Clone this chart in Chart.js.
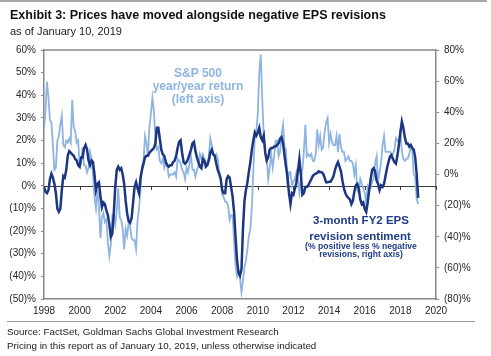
<!DOCTYPE html>
<html>
<head>
<meta charset="utf-8">
<script src="https://cdn.jsdelivr.net/npm/chart.js@4"></script>
<style>
  html, body { margin:0; padding:0; background:#fff; }
  #wrap { position:relative; width:491px; height:356px; overflow:hidden; font-family:"Liberation Sans", Arial, sans-serif; }
  canvas { position:absolute; left:0; top:0; }
  .t { position:absolute; white-space:nowrap; line-height:1; }
  .c { transform:translateX(-50%); text-align:center; }
  .rule { position:absolute; background:#a6a6a6; }
</style>
</head>
<body>
<div id="wrap">
  <div class="rule" style="left:0;top:0;width:487px;height:2px;"></div>
  <canvas id="chart" width="491" height="356"></canvas>
  <div class="t" style="left:10px;top:9.4px;font-size:12.5px;font-weight:bold;color:#111;">Exhibit 3: Prices have moved alongside negative EPS revisions</div>
  <div class="t" style="left:10px;top:25.7px;font-size:11px;color:#222;">as of January 10, 2019</div>

  <div class="t c" style="left:198px;top:66.5px;font-size:12px;font-weight:bold;color:#8db4e2;">S&amp;P 500</div>
  <div class="t c" style="left:198px;top:79.8px;font-size:12px;font-weight:bold;color:#8db4e2;">year/year return</div>
  <div class="t c" style="left:198px;top:92.8px;font-size:12px;font-weight:bold;color:#8db4e2;">(left axis)</div>

  <div class="t c" style="left:361px;top:215.3px;font-size:11.5px;font-weight:bold;color:#1f3c88;">3-month FY2 EPS</div>
  <div class="t c" style="left:360px;top:231.3px;font-size:11.5px;font-weight:bold;color:#1f3c88;">revision sentiment</div>
  <div class="t c" style="left:361px;top:241.6px;font-size:8.6px;font-weight:bold;color:#1f3c88;">(% positive less % negative</div>
  <div class="t c" style="left:361px;top:249.8px;font-size:8.6px;font-weight:bold;color:#1f3c88;">revisions, right axis)</div>

  <div class="rule" style="left:7px;top:321px;width:468px;height:1px;background:#9a9a9a;"></div>
  <div class="t" style="left:7px;top:326.7px;font-size:9.8px;color:#222;">Source: FactSet, Goldman Sachs Global Investment Research</div>
  <div class="t" style="left:7px;top:341.2px;font-size:9.8px;color:#222;">Pricing in this report as of January 10, 2019, unless otherwise indicated</div>
</div>
<script>
// ---- data (monthly, starting January 1998) ----
const startYear = 1998;
const xTicks = [1998, 2000, 2002, 2004, 2006, 2008, 2010, 2012, 2014, 2016, 2018, 2020];
const leftTicks = [-50, -40, -30, -20, -10, 0, 10, 20, 30, 40, 50, 60];
const rightTicks = [-80, -60, -40, -20, 0, 20, 40, 60, 80];

// S&P 500 year/year return, % (left axis)
const spxYoY = [
  25, 33, 46, 39, 29, 28, 18, 7, 8, 20, 22, 27,
  31, 18, 17, 20, 19, 21, 19, 38, 26, 24, 19, 20,
  9, 10, 17, 9, 9, 6, 8, 15, 12, 5, -5, -10,
  -2, -9, -23, -14, -12, -16, -15, -25, -31, -26, -13, -13,
  -17, -11, -1, -14, -15, -19, -28, -19, -22, -16, -18, -23,
  -24, -24, -28, -15, -10, -2, 9, 10, 22, 19, 13, 26,
  32, 39, 33, 21, 16, 17, 11, 10, 12, 8, 11, 9,
  4, 5, 5, 5, 6, 4, 12, 11, 10, 7, 6, 3,
  8, 6, 10, 13, 7, 7, 4, 7, 9, 14, 12, 14,
  12, 10, 10, 13, 21, 18, 14, 13, 14, 12, 6, 4,
  -4, -5, -7, -7, -9, -15, -13, -13, -24, -35, -40, -38,
  -41, -47, -42, -36, -33, -28, -22, -19, -9, 7, 22, 24,
  32, 50, 58, 38, 22, 14, 12, 3, 8, 14, 8, 13,
  20, 20, 13, 15, 23, 27, 17, 16, -1, 6, 6, 0,
  2, 3, 6, 3, -3, 3, 7, 15, 27, 13, 14, 13,
  14, 11, 11, 14, 25, 18, 22, 16, 17, 24, 28, 30,
  19, 23, 19, 18, 18, 22, 15, 23, 17, 15, 15, 11,
  12, 13, 11, 11, 10, 5, 9, -2, -3, 3, 1, -1,
  -3, -8, 0, -1, -1, 2, 3, 10, 13, 2, 6, 10,
  18, 22, 15, 15, 15, 15, 14, 14, 16, 21, 20, 19,
  24, 15, 12, 11, 12, 12, 14, 17, 16, 5, 4, -6,
  -8
];

// 3-month FY2 EPS revision sentiment, % (right axis)
const epsRevision = [
  -8, -11, -12, -10, -3, 0.5, -2, -6, -12, -22, -24, -22,
  -10, -1, -2, 3, 12, 15, 14, 13, 12, 10, 9, 6,
  5, 11, 11, 17, 19, 16, 9, 6, 9, 8, 0, -10,
  -6, -5, -14, -21, -18, -19, -23, -26, -32, -40, -38, -25,
  -8, 3, 5, 3, 4, 0, -6, -17, -25, -30, -31, -28,
  -18, -8, -5, -9, -12, -2, 3, 7, 11, 12, 12, 14,
  15, 16, 17, 20, 30, 30, 23, 16, 13, 12, 8, 6,
  5, 6, 6, 8, 9, 12, 17, 21, 22, 14, 8, 7,
  8, 10, 13, 16, 20, 21, 15, 11, 8, 5, 4, 10,
  9, 5, 6, 9, 14, 16, 13, 12, 7, 3, 0.5, -3,
  -10, -12, -12, -3, -1, -2, -8, -14, -24, -40, -55, -63,
  -65, -61, -35, -17, -10, -5, 2, 8, 16, 22, 27, 25,
  27, 30, 24, 22, 25, 14, 9, 11, 16, 17, 17, 18,
  18, 19, 20, 23, 24, 20, 12, 5, -2, -12, -19, -12,
  -13, -9, -5, 2, 10, 0, -13, -12, -8, -8, -7, -5,
  -3, -1, 0, 0.5, 1, 2, 1.5, 1.5, 0.5, -2, -5, -5,
  -4.6, -4.6, -3, -1, 3, 6, 8, 5, 2, -4, -9, -12,
  -14, -15, -16, -19, -17, -11, -7, -6, -9, -16, -19, -18,
  -22, -24, -18, -10, -3, 3, 4, 2, -4, -6, -10, -7,
  -8, -6, -1, 4, 8, 11.5, 12.5, 10, 8, 7, 12, 19,
  27, 34, 30, 24, 20, 20, 18, 19, 17, 16, 11, 0,
  -15
];

// ---- build ----
const toPoints = arr => arr.map((v, i) => ({ x: startYear + i / 12, y: v }));
const pctFmt = v => v < 0 ? '(' + (-v) + ')%' : v + '%';
const AXIS = '#878787';
const TXT = '#262626';
const FONT = { family: '"Liberation Sans", Arial, sans-serif', size: 10 };

const framePlugin = {
  id: 'frame',
  beforeDatasetsDraw(chart) {
    const { ctx, chartArea: a, scales } = chart;
    const y0 = scales.y.getPixelForValue(0);
    ctx.save();
    ctx.strokeStyle = AXIS; ctx.lineWidth = 1.5;
    ctx.beginPath(); ctx.moveTo(a.left, a.top); ctx.lineTo(a.right, a.top); ctx.stroke();
    ctx.strokeStyle = '#3a3a3a'; ctx.lineWidth = 1;
    ctx.beginPath(); ctx.moveTo(a.left, Math.round(y0) + 0.5); ctx.lineTo(a.right, Math.round(y0) + 0.5); ctx.stroke();
    ctx.beginPath();
    xTicks.forEach(t => {
      const px = Math.round(scales.x.getPixelForValue(t)) + 0.5;
      ctx.moveTo(px, Math.round(y0)); ctx.lineTo(px, Math.round(y0) + 4);
    });
    ctx.stroke();
    ctx.restore();
  }
};

new Chart(document.getElementById('chart'), {
  type: 'line',
  data: {
    datasets: [
      {
        label: '3-month FY2 EPS revision sentiment',
        data: toPoints(epsRevision),
        yAxisID: 'y1',
        borderColor: '#1c3682',
        borderWidth: 2.5,
        pointRadius: 0,
        tension: 0,
        order: 0
      },
      {
        label: 'S&P 500 year/year return',
        data: toPoints(spxYoY),
        yAxisID: 'y',
        borderColor: '#8db4e2',
        borderWidth: 1.8,
        pointRadius: 0,
        tension: 0,
        order: 1
      }
    ]
  },
  options: {
    responsive: false,
    animation: false,
    devicePixelRatio: 1,
    layout: { padding: { top: 50, left: 0, right: 0, bottom: 0 } },
    plugins: { legend: { display: false }, tooltip: { enabled: false } },
    scales: {
      x: {
        type: 'linear',
        min: 1998, max: 2020,
        afterBuildTicks: s => { s.ticks = xTicks.map(v => ({ value: v })); },
        ticks: { callback: v => String(v), color: TXT, font: FONT, padding: 6, maxRotation: 0, autoSkip: false },
        grid: { drawOnChartArea: false, drawTicks: false },
        border: { display: true, color: AXIS, width: 1.5 },
        afterFit: s => { s.height = 57; }
      },
      y: {
        position: 'left',
        min: -50, max: 60,
        afterBuildTicks: s => { s.ticks = leftTicks.map(v => ({ value: v })); },
        ticks: { callback: pctFmt, color: TXT, font: FONT, padding: 5 },
        grid: { drawOnChartArea: false, tickLength: 3, color: AXIS },
        border: { display: true, color: AXIS, width: 1.5 },
        afterFit: s => { s.width = 44; }
      },
      y1: {
        position: 'right',
        min: -80, max: 80,
        afterBuildTicks: s => { s.ticks = rightTicks.map(v => ({ value: v })); },
        ticks: { callback: pctFmt, color: TXT, font: FONT, padding: 5 },
        grid: { drawOnChartArea: false, tickLength: 3, color: AXIS },
        border: { display: true, color: AXIS, width: 1.5 },
        afterFit: s => { s.width = 55; }
      }
    }
  },
  plugins: [framePlugin]
});
</script>
</body>
</html>
